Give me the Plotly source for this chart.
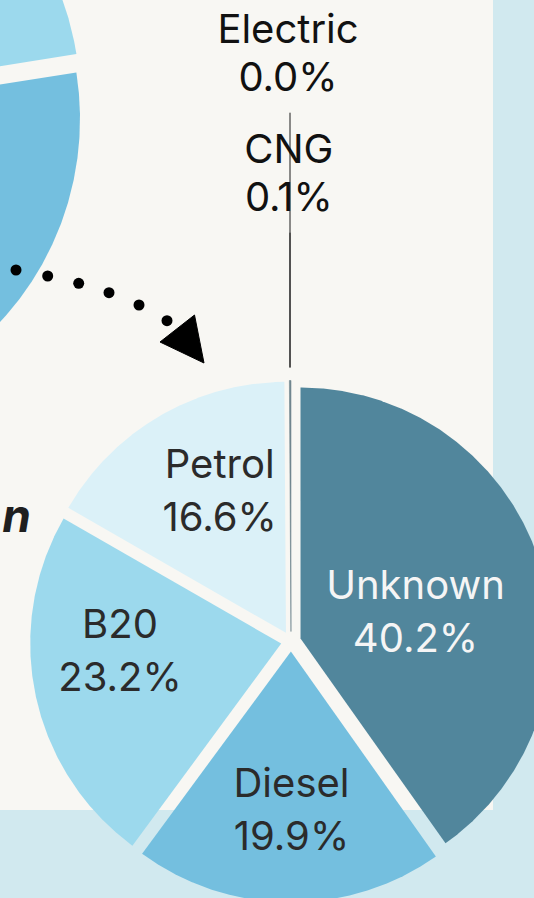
import numpy as np
import plotly.graph_objects as go

# ---- data -------------------------------------------------------------
# Fuel-type shares (%), listed clockwise from 12 o'clock
fuel_types = ["Unknown", "Diesel", "B20", "Petrol", "CNG", "Electric"]
fuel_share = [40.2, 19.9, 23.2, 16.6, 0.1, 0.0]

# Neighbouring overview pie: only its first two wedges reach the canvas
overview_parts = ["upper", "lower", "rest"]
overview_share = [22.5, 32.8, 44.7]

# ---- styling / layout -------------------------------------------------
W, H = 534, 898
BG_BLUE = "#d1e9ef"
BG_PANEL = "#f8f7f3"
PANEL_RIGHT, PANEL_BOTTOM = 493, 810

FUEL_COLORS = {
    "Unknown": "#51869c",
    "Diesel": "#74bfdf",
    "B20": "#9cd9ed",
    "Petrol": "#dbf1f8",
    "CNG": "#71868f",
    "Electric": "#9aa5ab",
}
OVERVIEW_COLORS = {"upper": "#9cd9ed", "lower": "#74bfdf", "rest": "#51869c"}

PIE = dict(cx=291.0, cy=641.5, r=251.0, pull=10.0)
OVERVIEW = dict(cx=-225.7, cy=109.8, r=298.0, pull=12.0)

FONT = "Inter"
INSIDE_SIZE, OUTSIDE_SIZE = 40, 40
INSIDE_GAP, OUTSIDE_GAP = 52.5, 47.4
DARK_TEXT, LIGHT_TEXT, BLACK_TEXT = "#2b2b2b", "#f5f5f5", "#111111"

# label anchor: (x centre, baseline of first line), in canvas pixels
LABEL_POS = {
    "Unknown": (415.5, 599.2),
    "Diesel": (291.5, 797.3),
    "B20": (120.0, 638.3),
    "Petrol": (219.7, 478.3),
    "CNG": (288.8, 163.3),
    "Electric": (288.0, 43.3),
}
OUTSIDE = {"CNG", "Electric"}

# dotted arrow leading from the overview pie to the fuel pie
ARROW_DOTS_X = [16, 47.7, 78.7, 109, 139, 167]
ARROW_DOTS_Y = [270, 276, 283.3, 292.7, 305, 320.7]
ARROW_HEAD_X = [160, 194.5, 204]
ARROW_HEAD_Y = [342, 315, 363]


def wedge(cx, cy, r, a0, a1, pull):
    """Polygon of a pie wedge; angles in degrees clockwise from 12 o'clock,
    y grows downward (the y axis is reversed)."""
    mid = np.radians((a0 + a1) / 2)
    ox, oy = cx + pull * np.sin(mid), cy - pull * np.cos(mid)
    n = max(2, int((a1 - a0) / 0.2) + 2)
    t = np.radians(np.linspace(a0, a1, n))
    xs = np.concatenate([[ox], ox + r * np.sin(t), [ox]])
    ys = np.concatenate([[oy], oy - r * np.cos(t), [oy]])
    return xs, ys, (ox, oy)


def angles(values):
    v = np.asarray(values, dtype=float)
    edges = np.concatenate([[0.0], np.cumsum(v)]) / v.sum() * 360.0
    return list(zip(edges[:-1], edges[1:]))


fig = go.Figure()

# overview pie (clipped by the canvas)
for name, (a0, a1) in zip(overview_parts, angles(overview_share)):
    xs, ys, _ = wedge(OVERVIEW["cx"], OVERVIEW["cy"], OVERVIEW["r"], a0, a1, OVERVIEW["pull"])
    fig.add_trace(go.Scatter(
        x=xs, y=ys, mode="lines", fill="toself", fillcolor=OVERVIEW_COLORS[name],
        line=dict(width=0), hoverinfo="skip"))

# fuel-type pie
tips = {}
for name, share, (a0, a1) in zip(fuel_types, fuel_share, angles(fuel_share)):
    xs, ys, origin = wedge(PIE["cx"], PIE["cy"], PIE["r"], a0, a1, PIE["pull"])
    thin = (a1 - a0) < 2
    fig.add_trace(go.Scatter(
        x=xs, y=ys, mode="lines", fill="toself", fillcolor=FUEL_COLORS[name],
        line=dict(width=0.6 if thin and share > 0 else 0, color=FUEL_COLORS[name]),
        hovertemplate=f"{name}: {share:.1f}%<extra></extra>"))
    mid = np.radians((a0 + a1) / 2)
    tips[name] = (origin[0] + PIE["r"] * np.sin(mid), origin[1] - PIE["r"] * np.cos(mid))

# leader lines for the tiny slices labelled outside the pie
for name in ["Electric", "CNG"]:
    lx = round(tips["CNG"][0])
    top = LABEL_POS[name][1] + OUTSIDE_GAP + 22
    bottom = tips["CNG"][1] - 13
    fig.add_trace(go.Scatter(
        x=[lx, lx], y=[top, bottom], mode="lines",
        line=dict(color="#1c1c1c", width=1), hoverinfo="skip"))

# dotted arrow
fig.add_trace(go.Scatter(
    x=ARROW_DOTS_X, y=ARROW_DOTS_Y, mode="markers",
    marker=dict(size=11, color="#000000"), hoverinfo="skip"))
fig.add_trace(go.Scatter(
    x=ARROW_HEAD_X + [ARROW_HEAD_X[0]], y=ARROW_HEAD_Y + [ARROW_HEAD_Y[0]],
    mode="lines", fill="toself", fillcolor="#000000",
    line=dict(width=1, color="#000000"), hoverinfo="skip"))

# slice labels: name on the first line, share on the second
for name, share in zip(fuel_types, fuel_share):
    x, base = LABEL_POS[name]
    if name in OUTSIDE:
        size, gap, color = OUTSIDE_SIZE, OUTSIDE_GAP, BLACK_TEXT
    else:
        size, gap = INSIDE_SIZE, INSIDE_GAP
        color = LIGHT_TEXT if name == "Unknown" else DARK_TEXT
    lines = [name, f"{share:.1f}%"]
    for i, txt in enumerate(lines):
        fig.add_trace(go.Scatter(
            x=[x], y=[base + i * gap - 0.25 * size], mode="text", text=[txt],
            textposition="middle center",
            textfont=dict(family=FONT, size=size, color=color),
            hoverinfo="skip"))

# tail of the side heading that runs in from the left
fig.add_trace(go.Scatter(
    x=[31], y=[532 - 0.25 * 46], mode="text", text=["n"],
    textposition="middle left",
    textfont=dict(family=FONT, size=46, color="#1f1f1f", weight="bold", style="italic"),
    hoverinfo="skip"))

fig.update_layout(
    width=W, height=H,
    margin=dict(l=0, r=0, t=0, b=0, pad=0),
    paper_bgcolor=BG_BLUE, plot_bgcolor="rgba(0,0,0,0)",
    showlegend=False,
    xaxis=dict(range=[0, W], visible=False, fixedrange=True),
    yaxis=dict(range=[H, 0], visible=False, fixedrange=True),
    shapes=[dict(type="rect", xref="x", yref="y", x0=0, x1=PANEL_RIGHT,
                 y0=0, y1=PANEL_BOTTOM, fillcolor=BG_PANEL,
                 line=dict(width=0), layer="below")],
)

fig.write_html("out.html", config={"displayModeBar": False})
